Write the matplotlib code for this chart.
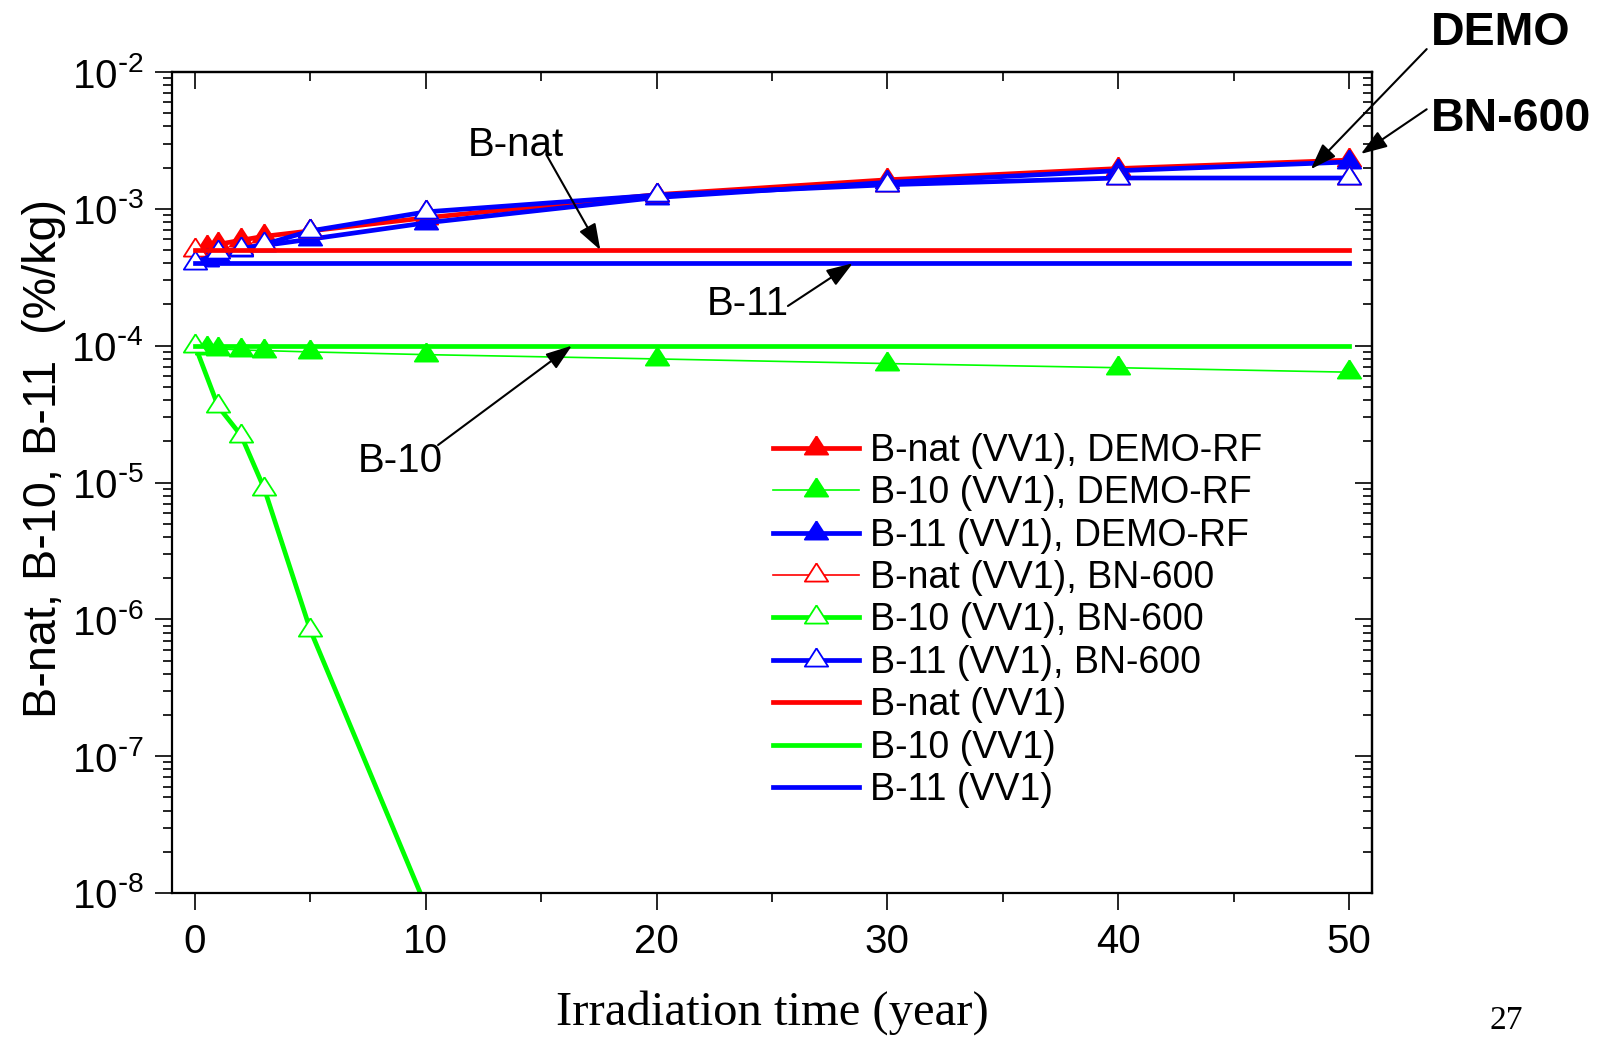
import numpy as np
import matplotlib
matplotlib.use("Agg")
import matplotlib.pyplot as plt
from matplotlib.ticker import (FixedLocator, MultipleLocator, LogLocator,
                               NullFormatter, FuncFormatter)

plt.rcParams["font.family"] = ["Liberation Sans", "DejaVu Sans"]
plt.rcParams["axes.unicode_minus"] = False

# Boron content vs. irradiation time (VV1 steel)
years_demo = [0.5, 1, 2, 3, 5, 10, 20, 30, 40, 50]
bnat_demo = [5.3e-4, 5.5e-4, 5.9e-4, 6.3e-4, 6.9e-4, 8.6e-4, 1.27e-3, 1.63e-3, 1.97e-3, 2.27e-3]
b10_demo = [9.6e-5, 9.5e-5, 9.3e-5, 9.2e-5, 9.0e-5, 8.6e-5, 8.0e-5, 7.4e-5, 6.9e-5, 6.4e-5]
b11_demo = [4.2e-4, 4.5e-4, 5.0e-4, 5.4e-4, 6.0e-4, 7.9e-4, 1.21e-3, 1.56e-3, 1.90e-3, 2.20e-3]

years_bn = [0, 1, 2, 3, 5, 10, 20, 30, 40, 50]
bnat_bn = [5.0e-4, 5.0e-4, 5.2e-4, 5.5e-4, 6.9e-4, 9.5e-4, 1.26e-3, 1.50e-3, 1.68e-3, 1.68e-3]
b11_bn = [4.0e-4, 4.8e-4, 5.1e-4, 5.5e-4, 6.9e-4, 9.5e-4, 1.26e-3, 1.50e-3, 1.68e-3, 1.68e-3]
years_b10_bn = [0, 1, 2, 3, 5, 10]
b10_bn = [1.0e-4, 3.6e-5, 2.2e-5, 9.0e-6, 8.3e-7, 8.0e-9]

years_init = [0, 50]
bnat_init = [5.0e-4, 5.0e-4]
b10_init = [1.0e-4, 1.0e-4]
b11_init = [4.0e-4, 4.0e-4]

x_ticks = [0, 10, 20, 30, 40, 50]

RED, GREEN, BLUE = "#ff0000", "#00ff00", "#0000ff"
THICK, THIN = 3.4, 1.2

# triangle anchored at its centroid
TRI = [(0, 1), (-0.96, -0.5), (0.96, -0.5), (0, 1)]

fig = plt.figure(figsize=(16.15, 10.37), dpi=100)
ax = fig.add_axes([172 / 1615, 1 - 893 / 1037, 1200 / 1615, 821 / 1037])
ax.set_yscale("log")


def series(x, y, color, lw, filled, label):
    ax.plot(x, y, color=color, lw=lw, marker=TRI, markersize=17.5,
            markerfacecolor=color if filled else "white",
            markeredgecolor=color, markeredgewidth=1.3, label=label)


series(years_demo, bnat_demo, RED, THICK, True, "B-nat (VV1), DEMO-RF")
series(years_demo, b10_demo, GREEN, THIN, True, "B-10 (VV1), DEMO-RF")
series(years_demo, b11_demo, BLUE, THICK, True, "B-11 (VV1), DEMO-RF")
series(years_bn, bnat_bn, RED, THIN, False, "B-nat (VV1), BN-600")
series(years_b10_bn, b10_bn, GREEN, THICK, False, "B-10 (VV1), BN-600")
series(years_bn, b11_bn, BLUE, THICK, False, "B-11 (VV1), BN-600")
ax.plot(years_init, bnat_init, color=RED, lw=THICK, label="B-nat (VV1)")
ax.plot(years_init, b10_init, color=GREEN, lw=THICK, label="B-10 (VV1)")
ax.plot(years_init, b11_init, color=BLUE, lw=THICK, label="B-11 (VV1)")

ax.set_xlim(-1, 51)
ax.set_ylim(1e-8, 1e-2)


def pow10(v, pos):
    exp = int(round(np.log10(v)))
    sign = r"\text{-}" if exp < 0 else ""
    return r"$\mathregular{10^{%s%d}}$" % (sign, abs(exp))


# axes frame and ticks: outward on bottom/left, inward on top/right
for s in ax.spines.values():
    s.set_linewidth(1.6)
ax.xaxis.set_major_locator(FixedLocator(x_ticks))
ax.xaxis.set_minor_locator(MultipleLocator(5))
ax.yaxis.set_major_locator(LogLocator(base=10, numticks=20))
ax.yaxis.set_major_formatter(FuncFormatter(pow10))
ax.yaxis.set_minor_locator(LogLocator(base=10, subs=np.arange(2, 10), numticks=100))
ax.yaxis.set_minor_formatter(NullFormatter())
ax.tick_params(which="major", direction="out", length=12.5, width=1.2, labelsize=29)
ax.tick_params(which="minor", direction="out", length=6.5, width=1.2)
ax.tick_params(axis="x", pad=9)
ax.tick_params(axis="y", pad=8)

top = ax.secondary_xaxis("top")
top.xaxis.set_major_locator(FixedLocator(x_ticks))
top.xaxis.set_minor_locator(MultipleLocator(5))
top.tick_params(which="major", direction="in", length=12.5, width=1.2, labeltop=False)
top.tick_params(which="minor", direction="in", length=6.5, width=1.2)
right = ax.secondary_yaxis("right")
right.yaxis.set_major_locator(LogLocator(base=10, numticks=20))
right.yaxis.set_minor_locator(LogLocator(base=10, subs=np.arange(2, 10), numticks=100))
right.yaxis.set_minor_formatter(NullFormatter())
right.tick_params(which="major", direction="in", length=12.5, width=1.2, labelright=False)
right.tick_params(which="minor", direction="in", length=6.5, width=1.2)
for sec in (top, right):
    for s in sec.spines.values():
        s.set_linewidth(1.6)

ax.set_ylabel("B-nat, B-10, B-11  (%/kg)", fontsize=33.7, va="center")
ax.yaxis.set_label_coords(-0.107, 0.529)
ax.set_xlabel("Irradiation time (year)", fontsize=35, family="Liberation Serif", va="center")
ax.xaxis.set_label_coords(0.5, -0.146)

leg = ax.legend(loc="upper left", bbox_to_anchor=(773 / 1615, 1 - 433 / 1037),
                bbox_transform=fig.transFigure, frameon=False, fontsize=27,
                numpoints=1, handlelength=2.3, handletextpad=0.3,
                labelspacing=0.17, borderpad=0, borderaxespad=0)

arrow = dict(arrowstyle="-|>,head_length=0.8,head_width=0.28", color="black",
             lw=1.5, mutation_scale=20, shrinkA=0, shrinkB=0)

ax.text(13.92, 2.93e-3, "B-nat", fontsize=29, ha="center", va="center")
ax.annotate("", xy=(17.56, 5.0e-4), xytext=(15.22, 2.49e-3), arrowprops=arrow)
ax.text(23.96, 2.02e-4, "B-11", fontsize=29, ha="center", va="center")
ax.annotate("", xy=(28.5, 4.0e-4), xytext=(25.69, 1.95e-4), arrowprops=arrow)
ax.text(8.9, 1.44e-5, "B-10", fontsize=29, ha="center", va="center")
ax.annotate("", xy=(16.33, 1.0e-4), xytext=(10.53, 1.88e-5), arrowprops=arrow)

ax.text(53.56, 1.93e-2, "DEMO", fontsize=33.5, fontweight="bold", ha="left",
        va="center", clip_on=False)
ax.annotate("", xy=(48.35, 1.95e-3), xytext=(53.37, 1.47e-2), arrowprops=arrow,
            annotation_clip=False)
ax.text(53.56, 4.52e-3, "BN-600", fontsize=33.5, fontweight="bold", ha="left",
        va="center", clip_on=False)
ax.annotate("", xy=(50.52, 2.52e-3), xytext=(53.37, 5.34e-3), arrowprops=arrow,
            annotation_clip=False)

fig.text(1506 / 1615, 1 - 1021 / 1037, "27", fontsize=24, family="Liberation Serif",
         ha="center", va="center")

fig.savefig("out.png", dpi=100)
